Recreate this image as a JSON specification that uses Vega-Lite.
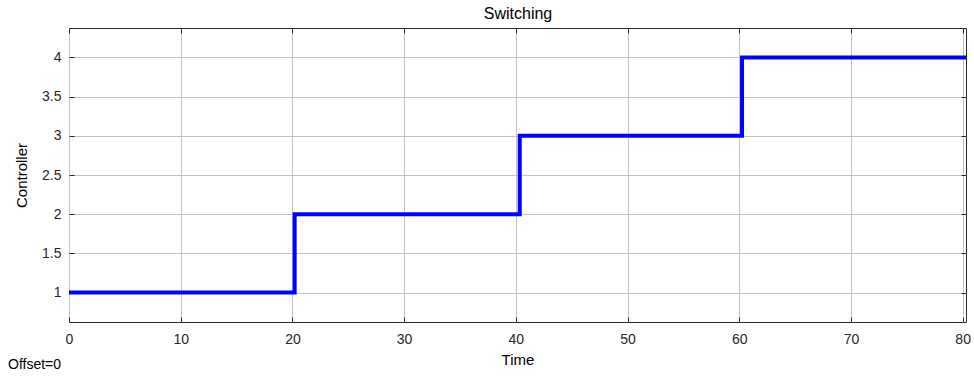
{
  "$schema": "https://vega.github.io/schema/vega-lite/v6.json",
  "width": 897,
  "height": 294,
  "autosize": {"type": "none"},
  "padding": {"left": 69, "top": 28, "right": 8, "bottom": 58},
  "background": "white",
  "title": {"text": "Offset=0", "orient": "bottom", "anchor": "start", "frame": "group", "dx": -61, "offset": -9, "fontSize": 14, "fontWeight": "normal", "color": "#000000", "font": "Liberation Sans"},
  "config": {
    "font": "Liberation Sans",
    "view": {"stroke": "#262626", "strokeWidth": 1},
    "axis": {
      "domain": false,
      "labelFlush": false,
      "gridColor": "#c4c4c4",
      "gridOpacity": 1,
      "gridWidth": 1,
      "tickColor": "#262626",
      "tickSize": -5,
      "labelFont": "Liberation Sans",
      "labelFontSize": 14,
      "labelColor": "#262626",
      "titleFont": "Liberation Sans",
      "titleFontSize": 15,
      "titleFontWeight": "normal",
      "titleColor": "#000000"
    }
  },
  "data": {
    "values": [
      {"t": 0, "c": 1},
      {"t": 20.2, "c": 2},
      {"t": 40.35, "c": 3},
      {"t": 60.25, "c": 4},
      {"t": 80.3, "c": 4}
    ]
  },
  "layer": [
    {
      "mark": {"type": "line", "interpolate": "step-after", "color": "#0000ff", "strokeWidth": 4, "clip": true},
      "encoding": {
        "x": {"field": "t", "type": "quantitative", "scale": {"domain": [0, 80.3], "nice": false, "zero": false},
          "axis": {"orient": "bottom", "title": "Time", "values": [0, 10, 20, 30, 40, 50, 60, 70, 80], "labelPadding": 15, "titlePadding": 6}},
        "y": {"field": "c", "type": "quantitative", "scale": {"domain": [0.625, 4.375], "nice": false, "zero": false},
          "axis": {"orient": "left", "title": "Controller", "format": "~g", "values": [1, 1.5, 2, 2.5, 3, 3.5, 4], "labelPadding": 13, "titlePadding": 12}}
      }
    },
    {
      "mark": {"type": "line", "opacity": 0},
      "encoding": {
        "x": {"field": "t", "type": "quantitative",
          "axis": {"orient": "top", "labels": false, "grid": false, "title": "Switching", "values": [0, 10, 20, 30, 40, 50, 60, 70, 80], "titlePadding": 6, "titleFontSize": 16}},
        "y": {"field": "c", "type": "quantitative",
          "axis": {"orient": "right", "labels": false, "grid": false, "title": null, "values": [1, 1.5, 2, 2.5, 3, 3.5, 4]}}
      }
    }
  ]
}
